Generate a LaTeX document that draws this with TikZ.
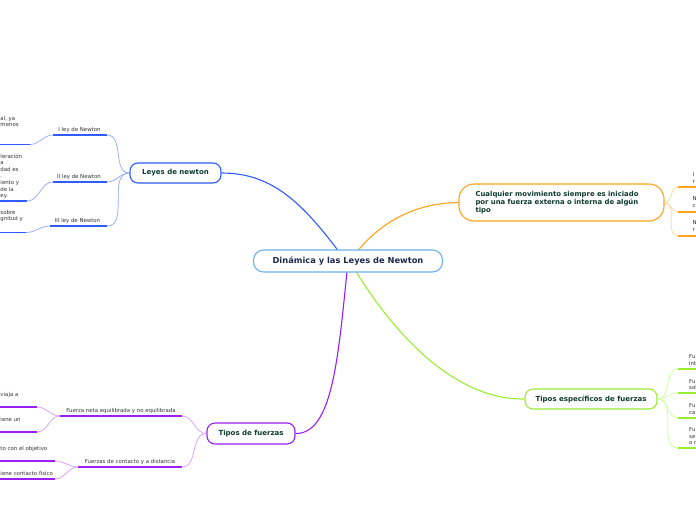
\documentclass[tikz,border=0pt]{standalone}
\usepackage{fontspec}
\setmainfont{DejaVu Sans}
\usetikzlibrary{backgrounds}
\definecolor{cblue}{HTML}{2F5CFF}
\definecolor{cbluel}{HTML}{8FA9FF}
\definecolor{ccent}{HTML}{6DB3EA}
\definecolor{corange}{HTML}{FFA31A}
\definecolor{corangel}{HTML}{FFD79A}
\definecolor{cgreen}{HTML}{99EE33}
\definecolor{cgreenl}{HTML}{CCFF99}
\definecolor{cpurple}{HTML}{9A1FF0}
\definecolor{cpurplel}{HTML}{D699FF}
\definecolor{ctext}{HTML}{0D3B2E}
\definecolor{ccentt}{HTML}{1C2A4F}
\definecolor{cgray}{HTML}{333333}
\tikzset{
  box/.style={draw, fill=white, line width=1.1pt, rounded corners=8pt, inner sep=0pt, text=ctext, font=\fontsize{7}{8.5}\selectfont\bfseries},
  mainln/.style={line width=1.1pt},
  subln/.style={line width=0.7pt},
  uline/.style={line width=1.6pt},
  lbl/.style={anchor=base, text=cgray, inner sep=0pt, font=\fontsize{5.4}{6.5}\selectfont},
  frag/.style={anchor=base west, text=cgray, inner sep=0pt, font=\fontsize{5.4}{6.5}\selectfont},
  fragr/.style={anchor=base west, text=cgray, inner sep=0pt, font=\fontsize{5.4}{6.5}\selectfont},
}
\begin{document}
\begin{tikzpicture}[x=1pt,y=-1pt]
\useasboundingbox (0,0) rectangle (696,520);
\clip (0,0) rectangle (696,520);

% ---- main nodes
\node[box, draw=ccent, text=ccentt, minimum width=189pt, minimum height=22pt, rounded corners=10pt, font=\fontsize{8.3}{10}\selectfont\bfseries] (center) at (348,261) {Dinámica y las Leyes de Newton};
\node[box, draw=cblue, minimum width=91pt, minimum height=20pt] (leyes) at (175.5,173) {Leyes de newton};
\node[box, draw=corange, minimum width=205pt, minimum height=37pt, rounded corners=15pt, align=left, text width=172pt, font=\fontsize{6.9}{8.2}\selectfont\bfseries] (cual) at (561.5,202.5) {Cualquier movimiento siempre es iniciado\\por una fuerza externa o interna de algún\\tipo};
\node[box, draw=cgreen, minimum width=132pt, minimum height=20pt] (tesp) at (591,399) {Tipos específicos de fuerzas};
\node[box, draw=cpurple, minimum width=88pt, minimum height=21pt] (tfz) at (251,433.5) {Tipos de fuerzas};

% ---- main connectors
\coordinate (cb) at (338,250.5);
\coordinate (co) at (358,250.5);
\coordinate (cg) at (356,271.5);
\coordinate (cp) at (347,271.5);
\begin{scope}[on background layer]
\fill[white] (0,0) rectangle (696,520);
\draw[mainln, cblue] (cb) .. controls (300,200) and (270,173) .. (leyes.east);
\draw[mainln, corange] (co) .. controls (385,218) and (420,203) .. (cual.west);
\draw[mainln, cgreen] (cg) .. controls (395,335) and (455,400) .. (tesp.west);
\draw[mainln, cpurple] (cp) .. controls (338,360) and (332,434) .. (tfz.east);
\end{scope}

% ---- Leyes de newton branch
\coordinate (l1a) at (53,135);  \coordinate (l1b) at (107,135);
\coordinate (l2a) at (53,182);  \coordinate (l2b) at (107,182);
\coordinate (l3a) at (50,226);  \coordinate (l3b) at (107,226);
\foreach \b in {l1b,l2b,l3b}{\draw[subln, cbluel] (leyes.west) to[out=180,in=0] (\b);}
\draw[uline, cblue] (l1a) -- (l1b);
\draw[uline, cblue] (l2a) -- (l2b);
\draw[uline, cblue] (l3a) -- (l3b);
\node[lbl] (t1) at (79.5,131) {I ley de Newton};
\node[lbl] (t2) at (79,178) {II ley de Newton};
\node[lbl] (t3) at (77.5,222) {III ley de Newton};

\coordinate (f1a) at (-5,144.5); \coordinate (f1b) at (30,144.5);
\coordinate (f2a) at (-5,201);   \coordinate (f2b) at (27,201);
\coordinate (f3a) at (-5,232.5); \coordinate (f3b) at (26,232.5);
\draw[subln, cbluel] (l1a) to[out=180,in=0] (f1b);
\draw[subln, cbluel] (l2a) to[out=180,in=0] (f2b);
\draw[subln, cbluel] (l3a) to[out=180,in=0] (f3b);
\draw[uline, cblue] (f1a) -- (f1b);
\draw[uline, cblue] (f2a) -- (f2b);
\draw[uline, cblue] (f3a) -- (f3b);
\node[frag] (a1) at (0.3,120.5) {al, ya};
\node[frag] (a2) at (0.3,126.5) {menos};
\node[frag] (b1) at (0.3,158) {leración};
\node[frag] (b2) at (0.3,164) {a};
\node[frag] (b3) at (0.3,171) {dad es};
\node[frag] (b4) at (0.3,177) {.};
\node[frag] (b5) at (0.3,184) {iento y};
\node[frag] (b6) at (0.3,191) {de la};
\node[frag] (b7) at (0.3,197) {ey.};
\node[frag] (c1) at (0.3,214.5) {sobre};
\node[frag] (c2) at (0.3,220.5) {gnitud y};

% ---- orange branch
\coordinate (o1a) at (678,187); \coordinate (o1b) at (700,187);
\coordinate (o2a) at (678,212); \coordinate (o2b) at (700,212);
\coordinate (o3a) at (678,236); \coordinate (o3b) at (700,236);
\foreach \b in {o1a,o2a,o3a}{\draw[subln, corangel] (cual.east) to[out=0,in=180] (\b);}
\draw[uline, corange] (o1a) -- (o1b);
\draw[uline, corange] (o2a) -- (o2b);
\draw[uline, corange] (o3a) -- (o3b);
\node[fragr] (r1) at (692.5,176) {I};
\node[fragr] (r2) at (692.5,183) {r};
\node[fragr] (r3) at (692.5,200) {N};
\node[fragr] (r4) at (692.5,207) {c};
\node[fragr] (r5) at (692.5,224) {N};
\node[fragr] (r6) at (692.5,231) {r};

% ---- green branch
\coordinate (g1a) at (678,369); \coordinate (g1b) at (700,369);
\coordinate (g2a) at (678,393); \coordinate (g2b) at (700,393);
\coordinate (g3a) at (678,418); \coordinate (g3b) at (700,418);
\coordinate (g4a) at (678,448); \coordinate (g4b) at (700,448);
\foreach \b in {g1a,g2a,g3a,g4a}{\draw[subln, cgreenl] (tesp.east) to[out=0,in=180] (\b);}
\draw[uline, cgreen] (g1a) -- (g1b);
\draw[uline, cgreen] (g2a) -- (g2b);
\draw[uline, cgreen] (g3a) -- (g3b);
\draw[uline, cgreen] (g4a) -- (g4b);
\node[fragr] (s1) at (689,358) {Fu};
\node[fragr] (s2) at (689,365) {int};
\node[fragr] (s3) at (689,383) {Fu};
\node[fragr] (s4) at (689,389) {sol};
\node[fragr] (s5) at (689,407) {Fu};
\node[fragr] (s6) at (689,414) {ca};
\node[fragr] (s7) at (689,431) {Fu};
\node[fragr] (s8) at (689,438) {se};
\node[fragr] (s9) at (689,444) {o r};

% ---- purple branch
\coordinate (p1a) at (60,416);  \coordinate (p1b) at (182,416);
\coordinate (p2a) at (78,467);  \coordinate (p2b) at (182,467);
\draw[subln, cpurplel] (tfz.west) to[out=180,in=0] (p1b);
\draw[subln, cpurplel] (tfz.west) to[out=180,in=0] (p2b);
\draw[uline, cpurple] (p1a) -- (p1b);
\draw[uline, cpurple] (p2a) -- (p2b);
\node[lbl] (u1) at (121,412) {Fuerza neta equilibrada y no equilibrada};
\node[lbl] (u2) at (130,463) {Fuerzas de contacto y a distancia};

\coordinate (q1a) at (-5,407); \coordinate (q1b) at (37,407);
\coordinate (q2a) at (-5,432); \coordinate (q2b) at (37,432);
\coordinate (q3a) at (-5,461); \coordinate (q3b) at (55,461);
\coordinate (q4a) at (-5,479); \coordinate (q4b) at (55,479);
\draw[subln, cpurplel] (p1a) to[out=180,in=0] (q1b);
\draw[subln, cpurplel] (p1a) to[out=180,in=0] (q2b);
\draw[subln, cpurplel] (p2a) to[out=180,in=0] (q3b);
\draw[subln, cpurplel] (p2a) to[out=180,in=0] (q4b);
\draw[uline, cpurple] (q1a) -- (q1b);
\draw[uline, cpurple] (q2a) -- (q2b);
\draw[uline, cpurple] (q3a) -- (q3b);
\draw[uline, cpurple] (q4a) -- (q4b);
\node[frag] (v1) at (0.3,396) {viaja a};
\node[frag] (v2) at (0.3,421) {iene un};
\node[frag] (v3) at (0.3,450) {to con el objetivo};
\node[frag] (v4) at (0.3,475) {iene contacto físico};
\end{tikzpicture}
\end{document}
